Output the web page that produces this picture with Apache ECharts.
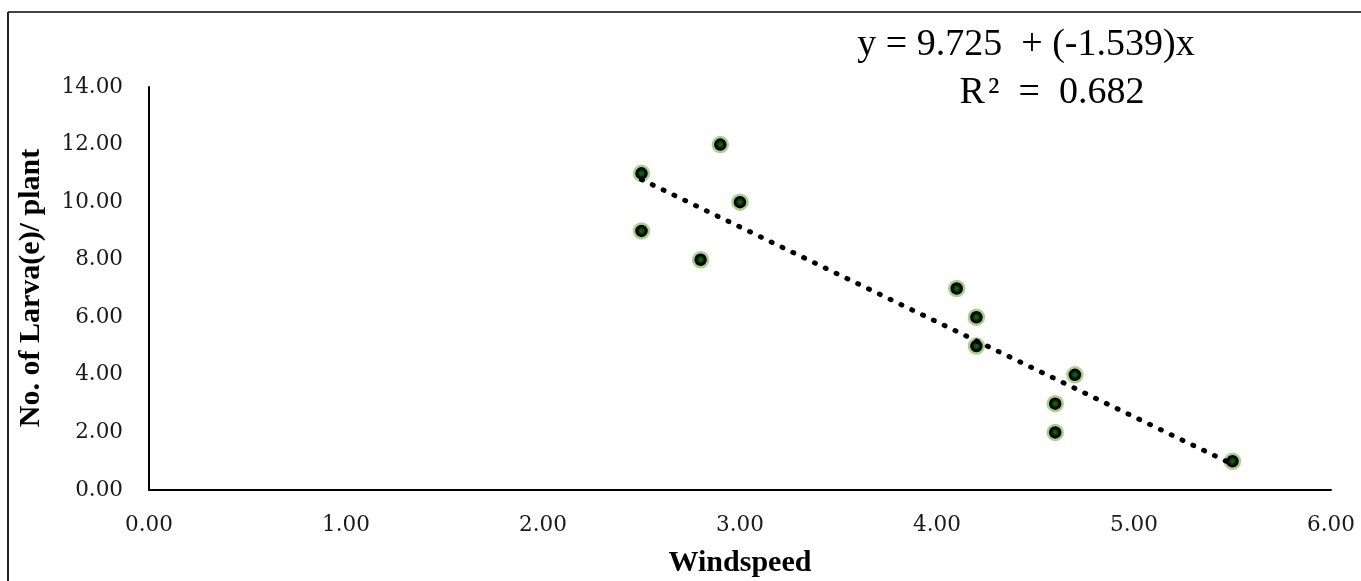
<!DOCTYPE html>
<html><head><meta charset="utf-8">
<script src="https://cdn.jsdelivr.net/npm/echarts@6/dist/echarts.min.js"></script>
<style>html,body{margin:0;padding:0;background:#fff}#c{width:1361px;height:581px}</style>
</head><body><div id="c"></div>
<script>
const windspeed = [2.5, 2.5, 2.8, 2.9, 3.0, 4.1, 4.2, 4.2, 4.7, 4.6, 4.6, 5.5];
const larvae    = [11, 9, 8, 12, 10, 7, 6, 5, 4, 3, 2, 1];
const equationText = 'y = 9.725  + (-1.539)x';
const r2Text = 'R\u200A²  =  0.682';
const xTitle = 'Windspeed';
const yTitle = 'No. of Larva(e)/ plant';

// least-squares trend line through the observed points
const n = windspeed.length;
const mx = windspeed.reduce((a,b)=>a+b,0)/n;
const my = larvae.reduce((a,b)=>a+b,0)/n;
let sxy=0, sxx=0;
for (let i=0;i<n;i++){ sxy+=(windspeed[i]-mx)*(larvae[i]-my); sxx+=(windspeed[i]-mx)**2; }
const slope = sxy/sxx, icpt = my - slope*mx;
const xmin = Math.min(...windspeed), xmax = Math.max(...windspeed);
const trend = [[xmin, icpt+slope*xmin],[xmax, icpt+slope*xmax]];

const chart = echarts.init(document.getElementById('c'));
const tickFont = {fontFamily:'DejaVu Serif', fontSize:21.5, color:'#1a1a1a'};
chart.setOption({
  animation:false,
  grid:{left:149, right:30, top:87, bottom:91},
  xAxis:{type:'value', min:0, max:6, interval:1,
    axisLine:{show:true, lineStyle:{color:'#000', width:2}},
    axisTick:{show:false}, splitLine:{show:false},
    axisLabel:Object.assign({margin:24, formatter:v=>v.toFixed(2)}, tickFont)},
  yAxis:{type:'value', min:0, max:14, interval:2,
    axisLine:{show:true, lineStyle:{color:'#000', width:2}},
    axisTick:{show:false}, splitLine:{show:false},
    axisLabel:Object.assign({margin:26, formatter:v=>v.toFixed(2)}, tickFont)},
  series:[
    {type:'scatter', data:windspeed.map((x,i)=>[x,larvae[i]]), symbolSize:15, z:2,
     itemStyle:{color:{type:'radial',x:0.5,y:0.5,r:0.5,colorStops:[{offset:0,color:'#1a6e1a'},{offset:0.3,color:'#0b3d0b'},{offset:0.5,color:'#000'},{offset:1,color:'#000'}]},
       borderColor:'#a9d18e', borderWidth:2.5, opacity:1}},
    {type:'line', data:trend, symbol:'none', z:3, silent:true,
     lineStyle:{color:'#000', width:5, type:[1,11], cap:'round'}}
  ],
  graphic:[
    {type:'line', shape:{x1:8,y1:12,x2:1361,y2:12}, style:{stroke:'#444', lineWidth:2}},
    {type:'line', shape:{x1:8,y1:12,x2:8,y2:581}, style:{stroke:'#222', lineWidth:2}},
    {type:'text', x:1026, y:45, style:{text:equationText, font:'38px "Liberation Serif"', fill:'#000', align:'center', verticalAlign:'middle'}},
    {type:'text', x:1052, y:93, style:{text:r2Text, font:'38px "Liberation Serif"', fill:'#000', align:'center', verticalAlign:'middle'}},
    {type:'text', x:740, y:563, style:{text:xTitle, font:'bold 30px "Liberation Serif"', fill:'#000', align:'center', verticalAlign:'middle'}},
    {type:'text', x:31, y:288, rotation:Math.PI/2, style:{text:yTitle, font:'bold 30px "Liberation Serif"', fill:'#000', align:'center', verticalAlign:'middle'}}
  ]
});
</script></body></html>
